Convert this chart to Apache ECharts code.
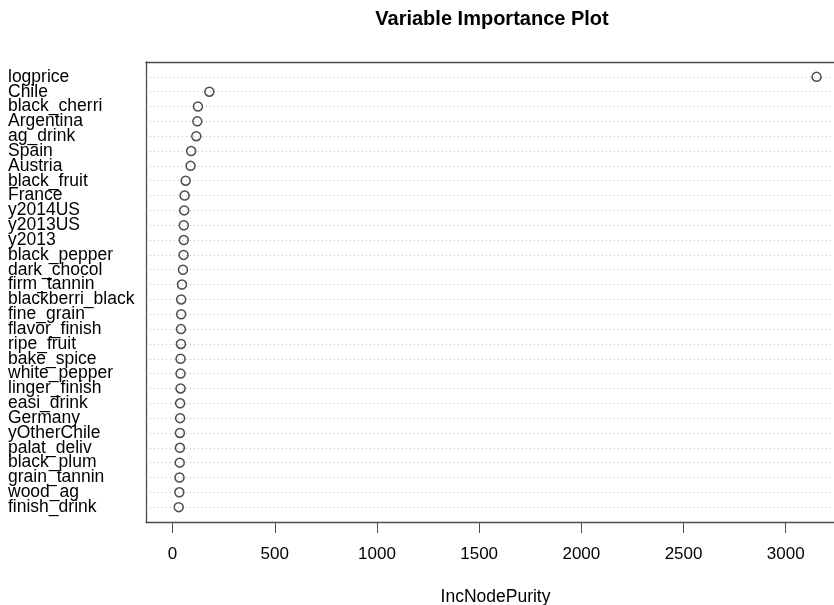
<!DOCTYPE html>
<html>
<head>
<meta charset="utf-8">
<script src="https://cdn.jsdelivr.net/npm/echarts@6/dist/echarts.min.js"></script>
<style>html,body{margin:0;padding:0;background:#fff;}#c{width:834px;height:605px;}</style>
</head>
<body>
<div id="c"></div>
<script>
var categories = ['logprice','Chile','black_cherri','Argentina','ag_drink','Spain','Austria','black_fruit','France','y2014US','y2013US','y2013','black_pepper','dark_chocol','firm_tannin','blackberri_black','fine_grain','flavor_finish','ripe_fruit','bake_spice','white_pepper','linger_finish','easi_drink','Germany','yOtherChile','palat_deliv','black_plum','grain_tannin','wood_ag','finish_drink'];
var importance = [3151,180,124,121,116,91,88,64,59,57,55,55,54,51,46,42,42,41,41,39,39,39,37,37,36,36,35,34,33,30];
var xTicks = [0,500,1000,1500,2000,2500,3000];

var rowValues = categories.map(function(_, i){ return i + 1; });
var labelValues = [0].concat(rowValues, [categories.length + 1]);
var data = importance.map(function(v, i){ return [v, i + 1]; });
var font = 'Liberation Sans, Arial, Helvetica, sans-serif';
var boxLine = {color: '#4d4d4d', width: 1.3};

var chart = echarts.init(document.getElementById('c'), null, {renderer: 'canvas'});
chart.setOption({
  animation: false,
  backgroundColor: '#fff',
  title: {
    text: 'Variable Importance Plot',
    left: 492, top: 9, textAlign: 'center', padding: 0,
    textStyle: {fontFamily: font, fontSize: 20, fontWeight: 'bold', color: '#000'}
  },
  grid: {
    left: 146, top: 62, width: 699, height: 460,
    outerBoundsMode: 'none', containLabel: false, show: false
  },
  xAxis: [{
    type: 'value', min: -130, max: 3290, position: 'bottom',
    name: 'IncNodePurity', nameLocation: 'middle', nameGap: 66,
    nameTextStyle: {fontFamily: font, fontSize: 17.5, color: '#000'},
    axisLine: {show: true, onZero: false, lineStyle: boxLine},
    axisTick: {show: true, length: 11, customValues: xTicks, lineStyle: {color: '#4d4d4d', width: 1}},
    axisLabel: {customValues: xTicks, margin: 24, fontFamily: font, fontSize: 17, color: '#000',
      formatter: function(v){ return String(v); }},
    splitLine: {show: false}
  }, {
    type: 'value', min: -130, max: 3290, position: 'top',
    axisLine: {show: true, onZero: false, lineStyle: boxLine},
    axisTick: {show: false}, axisLabel: {show: false}, splitLine: {show: false}
  }],
  yAxis: {
    type: 'value', min: 0, max: 31, inverse: true,
    axisLine: {show: true, onZero: false, lineStyle: boxLine},
    axisTick: {show: false, customValues: rowValues},
    axisLabel: {
      customValues: labelValues, align: 'left', margin: 138,
      hideOverlap: false, showMinLabel: true, showMaxLabel: true,
      fontFamily: font, fontSize: 17.5, color: '#000',
      formatter: function(v){ return categories[v - 1] || ''; }
    },
    splitLine: {show: true, customValues: rowValues, lineStyle: {color: '#bdbdbd', type: [1, 3], width: 1}}
  },
  series: [{
    type: 'scatter',
    xAxisIndex: 0,
    data: data,
    symbol: 'circle',
    symbolSize: 9,
    itemStyle: {color: 'rgba(255,255,255,0)', borderColor: '#222', borderWidth: 1.5}
  }]
});
</script>
</body>
</html>
